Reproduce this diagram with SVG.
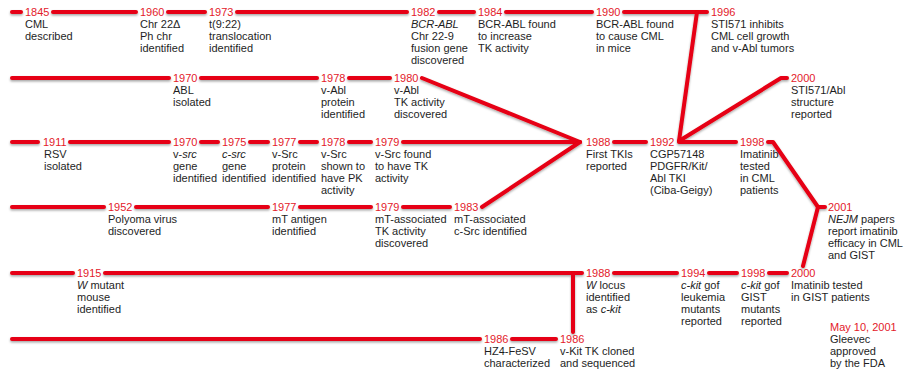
<svg xmlns="http://www.w3.org/2000/svg" width="904" height="370" viewBox="0 0 904 370">
  <style>
    text { font-family: "Liberation Sans", Arial, Helvetica, sans-serif; font-size: 11px; fill: #1e1e1e; }
    .yr { fill: #e3202a; }
    .it { font-style: italic; }
    .ln { fill: none; stroke: #e60012; stroke-width: 4; stroke-linecap: round; stroke-linejoin: round; }
  </style>
  <defs>
    <filter id="shadow" x="-5%" y="-20%" width="110%" height="140%">
      <feDropShadow dx="0" dy="1.5" stdDeviation="0.9" flood-color="#000" flood-opacity="0.35"/>
    </filter>
  </defs>
  <rect width="904" height="370" fill="#fff"/>

  <!-- timeline rails and links -->
  <g id="connectors" class="ln" filter="url(#shadow)">
    <!-- row 1: CML / BCR-ABL -->
    <path d="M12 12H21M53 12H136M168 12H205M237 12H407M439 12H474M506 12H592M624 12H707"/>
    <path d="M697 12L679 141"/>
    <!-- row 2: ABL -->
    <path d="M12 78H169M201 78H317M349 78H390"/>
    <path d="M422 78L580 142"/>
    <path d="M787 78H781L679 141"/>
    <!-- row 3: Src -->
    <path d="M12 142H38M70 142H169M201 142H218M250 142H268M300 142H317M349 142H371M403 142H580M614 142H646M679 142H736"/>
    <path d="M768 142H773L818 207H825"/>
    <path d="M818 207L803 266"/>
    <!-- row 4: polyoma -->
    <path d="M12 207H104M136 207H268M300 207H371M403 207H450"/>
    <path d="M482 207L580 142"/>
    <!-- row 5: Kit -->
    <path d="M12 273H73M105 273H582M614 273H677M709 273H737M769 273H787"/>
    <path d="M573 273V332"/>
    <!-- row 6: HZ4-FeSV -->
    <path d="M12 339H480M512 339H556"/>
  </g>

  <!-- row 1 -->
  <g id="n1845"><text class="yr" x="25" y="16">1845</text><text x="25" y="28">CML</text><text x="25" y="40">described</text></g>
  <g id="n1960"><text class="yr" x="140" y="16">1960</text><text x="140" y="28">Chr 22Δ</text><text x="140" y="40">Ph chr</text><text x="140" y="52">identified</text></g>
  <g id="n1973"><text class="yr" x="209" y="16">1973</text><text x="209" y="28">t(9:22)</text><text x="209" y="40">translocation</text><text x="209" y="52">identified</text></g>
  <g id="n1982"><text class="yr" x="411" y="16">1982</text><text class="it" x="411" y="28">BCR-ABL</text><text x="411" y="40">Chr 22-9</text><text x="411" y="52">fusion gene</text><text x="411" y="64">discovered</text></g>
  <g id="n1984"><text class="yr" x="478" y="16">1984</text><text x="478" y="28">BCR-ABL found</text><text x="478" y="40">to increase</text><text x="478" y="52">TK activity</text></g>
  <g id="n1990"><text class="yr" x="596" y="16">1990</text><text x="596" y="28">BCR-ABL found</text><text x="596" y="40">to cause CML</text><text x="596" y="52">in mice</text></g>
  <g id="n1996"><text class="yr" x="711" y="16">1996</text><text x="711" y="28">STI571 inhibits</text><text x="711" y="40">CML cell growth</text><text x="711" y="52">and v-Abl tumors</text></g>

  <!-- row 2 -->
  <g id="n1970abl"><text class="yr" x="173" y="82">1970</text><text x="173" y="94">ABL</text><text x="173" y="106">isolated</text></g>
  <g id="n1978abl"><text class="yr" x="321" y="82">1978</text><text x="321" y="94">v-Abl</text><text x="321" y="106">protein</text><text x="321" y="118">identified</text></g>
  <g id="n1980"><text class="yr" x="394" y="82">1980</text><text x="394" y="94">v-Abl</text><text x="394" y="106">TK activity</text><text x="394" y="118">discovered</text></g>
  <g id="n2000abl"><text class="yr" x="791" y="82">2000</text><text x="791" y="94">STI571/Abl</text><text x="791" y="106">structure</text><text x="791" y="118">reported</text></g>

  <!-- row 3 -->
  <g id="n1911"><text class="yr" x="43" y="146">1911</text><text x="44" y="158">RSV</text><text x="44" y="170">isolated</text></g>
  <g id="n1970src"><text class="yr" x="173" y="146">1970</text><text x="173" y="158">v-<tspan class="it">src</tspan></text><text x="173" y="170">gene</text><text x="173" y="182">identified</text></g>
  <g id="n1975"><text class="yr" x="222" y="146">1975</text><text class="it" x="222" y="158">c-src</text><text x="222" y="170">gene</text><text x="222" y="182">identified</text></g>
  <g id="n1977src"><text class="yr" x="272" y="146">1977</text><text x="272" y="158">v-Src</text><text x="272" y="170">protein</text><text x="272" y="182">identified</text></g>
  <g id="n1978src"><text class="yr" x="321" y="146">1978</text><text x="321" y="158">v-Src</text><text x="321" y="170">shown to</text><text x="321" y="182">have PK</text><text x="321" y="194">activity</text></g>
  <g id="n1979src"><text class="yr" x="375" y="146">1979</text><text x="375" y="158">v-Src found</text><text x="375" y="170">to have TK</text><text x="375" y="182">activity</text></g>
  <g id="n1988tki"><text class="yr" x="586" y="146">1988</text><text x="586" y="158">First TKIs</text><text x="586" y="170">reported</text></g>
  <g id="n1992"><text class="yr" x="650" y="146">1992</text><text x="650" y="158">CGP57148</text><text x="650" y="170">PDGFR/Kit/</text><text x="650" y="182">Abl TKI</text><text x="650" y="194">(Ciba-Geigy)</text></g>
  <g id="n1998cml"><text class="yr" x="740" y="146">1998</text><text x="740" y="158">Imatinib</text><text x="740" y="170">tested</text><text x="740" y="182">in CML</text><text x="740" y="194">patients</text></g>

  <!-- row 4 -->
  <g id="n1952"><text class="yr" x="108" y="211">1952</text><text x="108" y="223">Polyoma virus</text><text x="108" y="235">discovered</text></g>
  <g id="n1977mt"><text class="yr" x="272" y="211">1977</text><text x="272" y="223">mT antigen</text><text x="272" y="235">identified</text></g>
  <g id="n1979mt"><text class="yr" x="375" y="211">1979</text><text x="375" y="223">mT-associated</text><text x="375" y="235">TK activity</text><text x="375" y="247">discovered</text></g>
  <g id="n1983"><text class="yr" x="454" y="211">1983</text><text x="454" y="223">mT-associated</text><text x="454" y="235">c-Src identified</text></g>
  <g id="n2001"><text class="yr" x="828" y="211">2001</text><text x="828" y="223"><tspan class="it">NEJM</tspan> papers</text><text x="828" y="235">report imatinib</text><text x="828" y="247">efficacy in CML</text><text x="828" y="259">and GIST</text></g>

  <!-- row 5 -->
  <g id="n1915"><text class="yr" x="77" y="277">1915</text><text x="77" y="289"><tspan class="it">W</tspan> mutant</text><text x="77" y="301">mouse</text><text x="77" y="313">identified</text></g>
  <g id="n1988kit"><text class="yr" x="586" y="277">1988</text><text x="586" y="289"><tspan class="it">W</tspan> locus</text><text x="586" y="301">identified</text><text x="586" y="313">as <tspan class="it">c-kit</tspan></text></g>
  <g id="n1994"><text class="yr" x="681" y="277">1994</text><text x="681" y="289"><tspan class="it">c-kit</tspan> gof</text><text x="681" y="301">leukemia</text><text x="681" y="313">mutants</text><text x="681" y="325">reported</text></g>
  <g id="n1998gist"><text class="yr" x="741" y="277">1998</text><text x="741" y="289"><tspan class="it">c-kit</tspan> gof</text><text x="741" y="301">GIST</text><text x="741" y="313">mutants</text><text x="741" y="325">reported</text></g>
  <g id="n2000gist"><text class="yr" x="791" y="277">2000</text><text x="791" y="289">Imatinib tested</text><text x="791" y="301">in GIST patients</text></g>
  <g id="n2001fda"><text class="yr" x="830" y="331">May 10, 2001</text><text x="830" y="343">Gleevec</text><text x="830" y="355">approved</text><text x="830" y="367">by the FDA</text></g>

  <!-- row 6 -->
  <g id="n1986hz4"><text class="yr" x="484" y="343">1986</text><text x="484" y="355">HZ4-FeSV</text><text x="484" y="367">characterized</text></g>
  <g id="n1986kit"><text class="yr" x="560" y="343">1986</text><text x="560" y="355">v-Kit TK cloned</text><text x="560" y="367">and sequenced</text></g>
</svg>
